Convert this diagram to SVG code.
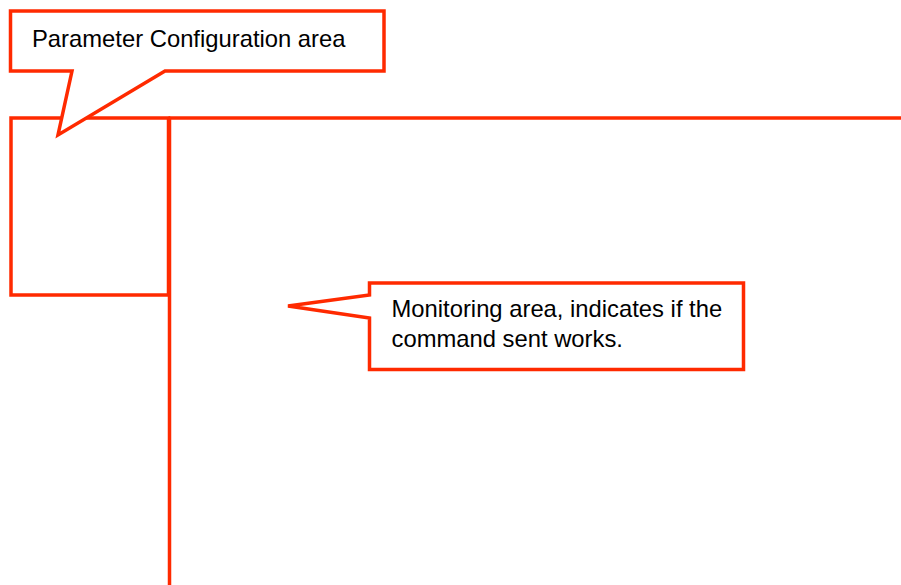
<svg xmlns="http://www.w3.org/2000/svg" width="901" height="585" viewBox="0 0 901 585">
<style>
.red{fill:none;stroke:#ff2a00;stroke-width:3.5;stroke-linejoin:miter}
.callout{fill:#ffffff;stroke:#ff2a00;stroke-width:3.5;stroke-linejoin:miter}
.lbl{font-family:"Liberation Sans",Arial,sans-serif;font-size:23.8px;fill:#000000}
</style>
<rect width="901" height="585" fill="#ffffff"/>
<g id="layout">
<rect class="red" x="11" y="118" width="157.5" height="177"/>
<line class="red" x1="168.5" y1="118" x2="901" y2="118"/>
<line class="red" x1="169.5" y1="118" x2="169.5" y2="585"/>
</g>
<g id="callout-parameter">
<path class="callout" d="M10.5,11 H384 V71 H165 L58,135 L72,71 H10.5 Z"/>
<text class="lbl" x="32" y="46.7">Parameter Configuration area</text>
</g>
<g id="callout-monitoring">
<path class="callout" d="M369.5,283 H743.5 V369.5 H369.5 V318 L288,306 L369.5,295 Z"/>
<text class="lbl" x="391.5" y="316.7">Monitoring area, indicates if the</text>
<text class="lbl" x="391.5" y="347.3">command sent works.</text>
</g>
</svg>
